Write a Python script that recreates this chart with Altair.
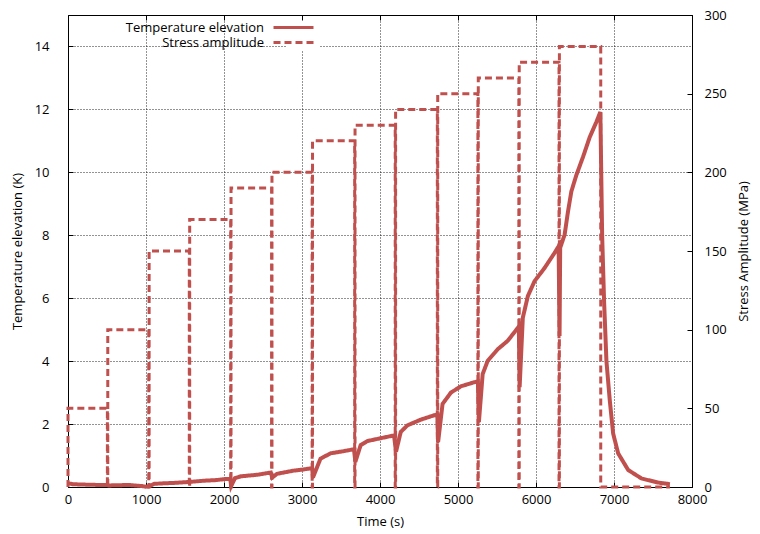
import altair as alt
import pandas as pd

RED = "#C0504D"
FONT = "Open Sans"
FS = 13
T_NAME = "Temperature elevation"
S_NAME = "Stress amplitude"

# Temperature elevation (K)
temp_time = [0, 60, 160, 300, 502, 520, 700, 802, 950, 995, 1040, 1102, 1250, 1359,
             1552, 1745, 1900, 2003, 2080, 2092, 2140, 2217, 2431, 2600, 2618, 2680,
             2893, 3000, 3130, 3140, 3237, 3366, 3537, 3666, 3684, 3752, 3838, 4009,
             4180, 4205, 4266, 4352, 4523, 4695, 4735, 4745, 4802, 4909, 5038, 5209,
             5255, 5268, 5316, 5381, 5510, 5639, 5780, 5790, 5831, 5896, 5981, 6110,
             6238, 6290, 6302, 6310, 6367, 6410, 6453, 6517, 6603, 6689, 6774, 6825,
             6848, 6873, 6903, 6946, 6989, 7053, 7182, 7353, 7568, 7717]
temp_k = [0.12, 0.09, 0.08, 0.07, 0.06, 0.05, 0.06, 0.06, 0.03, 0.01, 0.02, 0.10, 0.12, 0.13,
          0.16, 0.20, 0.22, 0.25, 0.26, 0.03, 0.28, 0.34, 0.39, 0.46, 0.30, 0.42,
          0.52, 0.55, 0.60, 0.30, 0.90, 1.07, 1.14, 1.20, 0.80, 1.33, 1.46, 1.55,
          1.64, 1.12, 1.75, 1.96, 2.14, 2.28, 2.30, 1.43, 2.64, 3.00, 3.20, 3.33,
          3.36, 2.06, 3.59, 4.01, 4.38, 4.65, 5.10, 3.17, 5.38, 6.07, 6.54, 6.96,
          7.44, 7.65, 4.80, 7.60, 8.02, 8.75, 9.39, 9.91, 10.49, 11.12, 11.60, 11.92,
          8.00, 5.90, 4.00, 2.75, 1.70, 1.07, 0.54, 0.27, 0.14, 0.09]

# Stress amplitude blocks (MPa)
stress_levels = [50, 100, 150, 170, 190, 200, 220, 230, 240, 250, 260, 270, 280]
block_start = [0, 510, 1040, 1560, 2090, 2615, 3135, 3680, 4200, 4740, 5260, 5785, 6300]
block_end = [505, 1035, 1555, 2085, 2610, 3130, 3675, 4195, 4735, 5255, 5780, 6295, 6830]
test_end = 7717

x_ticks = [0, 1000, 2000, 3000, 4000, 5000, 6000, 7000, 8000]
y_ticks = [0, 2, 4, 6, 8, 10, 12, 14]
y2_ticks = [0, 50, 100, 150, 200, 250, 300]

temp_df = pd.DataFrame({"time": temp_time, "value": temp_k, "series": T_NAME})

s_time, s_val = [], []
for s, e, lvl in zip(block_start, block_end, stress_levels):
    s_time += [s, s, e, e]
    s_val += [0, lvl, lvl, 0]
s_time.append(test_end)
s_val.append(0)
stress_df = pd.DataFrame({"time": s_time, "value": s_val, "series": S_NAME})
stress_df["order"] = range(len(stress_df))
temp_df["order"] = range(len(temp_df))

legend = alt.Legend(
    title=None, orient="none", legendX=219, legendY=6, direction="vertical",
    symbolType="M-4,0H4", symbolSize=100, symbolStrokeWidth=3,
    symbolStrokeColor=RED, labelAlign="right", labelOffset={"expr": "-36"},
    labelFont=FONT, labelFontSize=FS, labelColor="black", rowPadding=1,
    padding=0, fillColor="white", labelLimit=300,
)
color = alt.Color("series:N", scale=alt.Scale(domain=[T_NAME, S_NAME], range=[RED, RED]),
                  legend=legend)
dash = alt.StrokeDash("series:N",
                      scale=alt.Scale(domain=[T_NAME, S_NAME], range=[[1, 0], [7, 4]]),
                      legend=legend)

xscale = alt.Scale(domain=[0, 8000], nice=False)

common_axis = dict(domain=False, tickSize=5, offset={"expr": "-5"}, tickColor="black",
                   labelFlush=False, labelOverlap=False, labelFont=FONT, labelFontSize=FS,
                   labelColor="black", titleFont=FONT, titleFontSize=FS,
                   titleFontWeight="normal", titleColor="black")

grid_style = dict(grid=True, gridDash=[1, 2], gridColor="#000", gridWidth=1, gridOpacity=0.85)

temp_layer = alt.Chart(temp_df).mark_line(strokeWidth=4).encode(
    x=alt.X("time:Q", scale=xscale,
            axis=alt.Axis(values=x_ticks, format="d", orient="bottom", title="Time (s)",
                          labelPadding=6, titlePadding=9, **grid_style, **common_axis)),
    y=alt.Y("value:Q", scale=alt.Scale(domain=[0, 15], nice=False),
            axis=alt.Axis(values=y_ticks, orient="left", title="Temperature elevation (K)",
                          labelPadding=19, titlePadding=10, **grid_style, **common_axis)),
    order="order:Q",
    color=color,
    strokeDash=dash,
)

stress_layer = alt.Chart(stress_df).mark_line(strokeWidth=3).encode(
    x=alt.X("time:Q", scale=xscale,
            axis=alt.Axis(values=x_ticks, orient="top", labels=False, title=None,
                          grid=False, **common_axis)),
    y=alt.Y("value:Q", scale=alt.Scale(domain=[0, 300], nice=False),
            axis=alt.Axis(values=y2_ticks, orient="right", title="Stress Amplitude (MPa)",
                          labelPadding=12, titlePadding=24, titleAngle=270, grid=False,
                          **common_axis)),
    order="order:Q",
    color=color,
    strokeDash=dash,
)

chart = alt.layer(temp_layer, stress_layer).resolve_scale(
    y="independent"
).resolve_axis(x="independent").properties(
    width=624, height=472,
    autosize=alt.AutoSizeParams(type="none"),
    padding={"left": 60, "top": 7, "right": 60, "bottom": 45},
    background="white",
).configure_view(stroke="black", strokeWidth=1)

chart.save("out.html", embed_options={"renderer": "svg", "actions": False})
